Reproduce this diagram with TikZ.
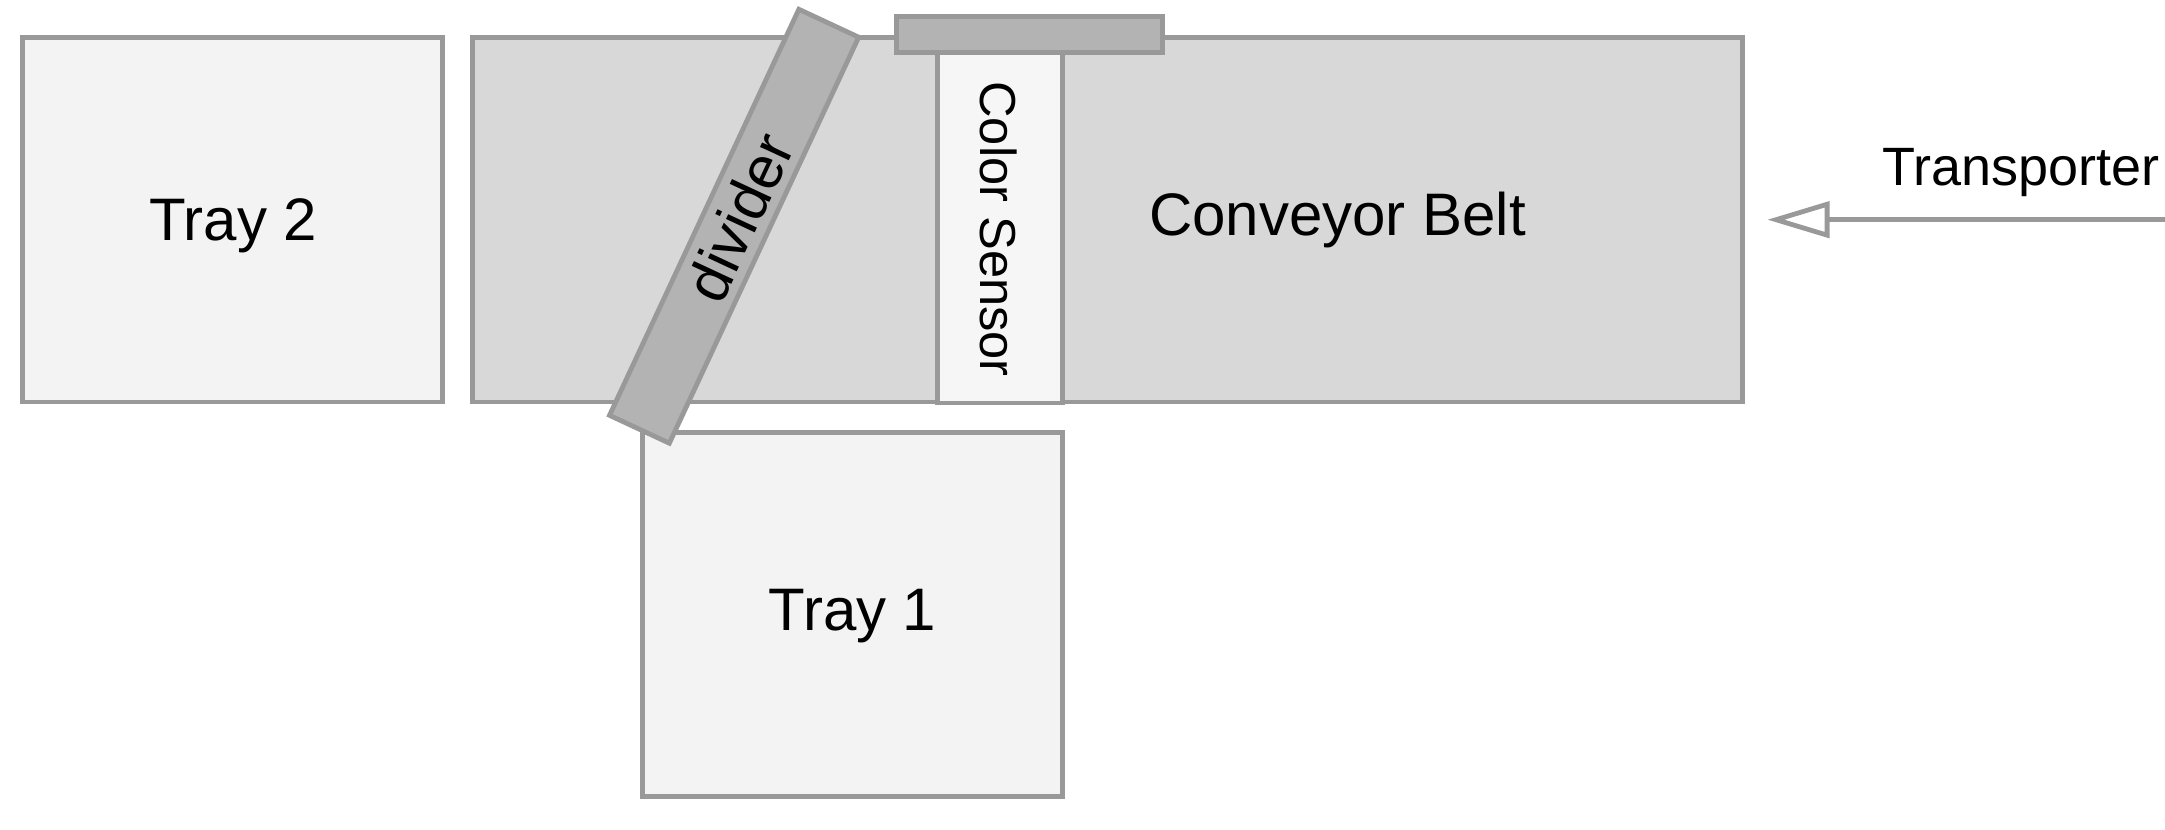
\documentclass[tikz,border=0pt]{standalone}
\usepackage{fontspec}
\setmainfont{Liberation Sans}
\usetikzlibrary{arrows.meta}
\definecolor{edgegray}{HTML}{999999}
\definecolor{trayfill}{HTML}{F3F3F3}
\definecolor{beltfill}{HTML}{D8D8D8}
\definecolor{darkfill}{HTML}{B3B3B3}
\definecolor{sensorfill}{HTML}{F6F6F6}
\tikzset{
  shapebox/.style={draw=edgegray, line width=2.4pt, rectangle, inner sep=0pt, outer sep=0pt},
  bigtext/.style={font=\fontsize{30}{34}\selectfont, inner sep=0pt, anchor=base},
  midtext/.style={font=\fontsize{27}{32}\selectfont, inner sep=0pt, anchor=base},
  feed/.style={draw=edgegray, line width=2.4pt, -{Triangle[open, length=31pt, width=18pt]}},
}
\begin{document}
\begin{tikzpicture}[x=0.5pt, y=-0.5pt]
\useasboundingbox (0,0) rectangle (2165,830);
% conveyor belt
\node[shapebox, fill=beltfill, minimum width=634.9pt, minimum height=182.35pt] (belt) at (1107.6,219.7) {};
% color sensor
\node[shapebox, fill=sensorfill, minimum width=62.2pt, minimum height=175.35pt] (sensor) at (1000,227.65) {};
\node[midtext, font=\fontsize{25.3}{30}\selectfont, rotate=-90] (sensortext) at (980.5,229) {Color Sensor};
% sensor bar
\node[shapebox, fill=darkfill, minimum width=132.8pt, minimum height=17.8pt] (bar) at (1029.6,34.5) {};
% trays
\node[shapebox, fill=trayfill, minimum width=210.1pt, minimum height=182.25pt] (tray2) at (232.6,219.75) {};
\node[bigtext] (tray2text) at (233.3,240) {Tray 2};
\node[shapebox, fill=trayfill, minimum width=210pt, minimum height=182pt] (tray1) at (852.3,614.7) {};
\node[bigtext] (tray1text) at (852.5,630) {Tray 1};
% divider
\node[shapebox, fill=darkfill, minimum width=224pt, minimum height=33pt, rotate=65] (divider) at (734.1,226.25) {};
\node[font=\fontsize{30}{34}\selectfont, inner sep=0pt, rotate=65] (dividertext) at (739,217) {divider};
% belt label
\node[bigtext] (belttext) at (1337.5,235) {Conveyor Belt};
% transporter
\coordinate (tstart) at (2165,219.7);
\node[midtext] (transtext) at (2020.9,185) {Transporter};
\draw[feed, shorten >=12.5pt] (tstart) -- (belt.east);
\end{tikzpicture}
\end{document}
